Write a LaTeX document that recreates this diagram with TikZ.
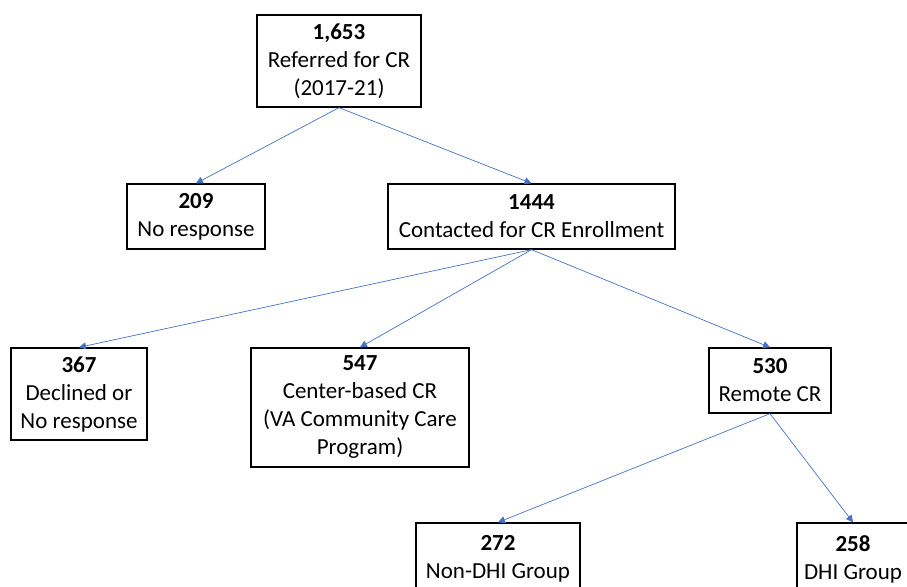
\documentclass[tikz,border=0pt]{standalone}
\usepackage{fontspec}
\setmainfont{Carlito}
\usetikzlibrary{arrows.meta, positioning}
\definecolor{linkblue}{HTML}{4472C4}

\begin{document}
\begin{tikzpicture}[x=1pt, y=-1pt, box/.style={rectangle, draw=black, line width=1.3pt, align=center, inner sep=0pt, font=\fontsize{23}{28}\selectfont}, link/.style={draw=linkblue, line width=0.7pt, -{Triangle[length=7pt,width=7pt]}}]

    \useasboundingbox (0,0) rectangle (907,586);
    \clip (0,0) rectangle (907,586);

    % top level
    \node[box, minimum width=164pt, minimum height=92pt] (ref) at (339,61) {\textbf{1,653}\\Referred for CR\\(2017-21)};

    % second level
    \node[box, minimum width=138pt, minimum height=65pt] (nores) at (196,216.5) {\textbf{209}\\No response};
    \node[box, minimum width=287pt, minimum height=65pt] (cont) at (531.5,216.5) {\textbf{1444}\\Contacted for CR Enrollment};

    % third level
    \node[box, minimum width=136pt, minimum height=92pt] (decl) at (79,394) {\textbf{367}\\Declined or\\No response};
    \node[box, minimum width=218pt, minimum height=119pt] (center) at (360,407.5) {\textbf{547}\\Center-based CR\\(VA Community Care\\Program)};
    \node[box, minimum width=122pt, minimum height=65pt] (remote) at (770,380.5) {\textbf{530}\\Remote CR};

    % fourth level (cut off by the frame)
    \node[box, minimum width=164pt, minimum height=72pt] (nondhi) at (498,559) {\textbf{272}\\Non-DHI Group};
    \node[box, minimum width=112pt, minimum height=72pt] (dhi) at (853,559) {\textbf{258}\\DHI Group};

    \draw[link] (ref.south) -- (nores.north);
    \draw[link] (ref.south) -- (cont.north);
    \draw[link] (cont.south) -- (decl.north);
    \draw[link] (cont.south) -- (center.north);
    \draw[link] (cont.south) -- (remote.north);
    \draw[link] (remote.south) -- (nondhi.north);
    \draw[link] (remote.south) -- (dhi.north);

\end{tikzpicture}
\end{document}
